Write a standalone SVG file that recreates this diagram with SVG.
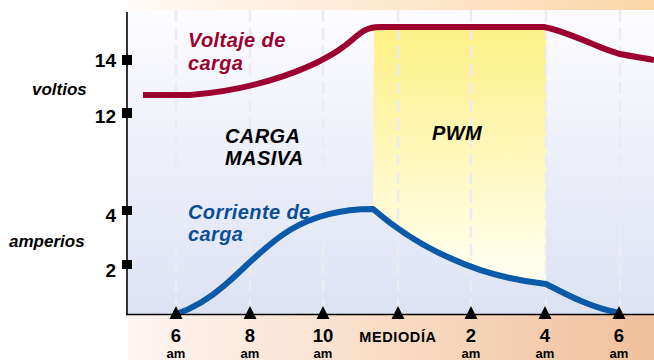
<svg xmlns="http://www.w3.org/2000/svg" width="654" height="360" viewBox="0 0 654 360">
  <defs>
    <linearGradient id="plotBg" x1="0" y1="10" x2="0" y2="314" gradientUnits="userSpaceOnUse">
      <stop offset="0" stop-color="#fcfcff"/>
      <stop offset="1" stop-color="#dde2f3"/>
    </linearGradient>
    <linearGradient id="topBand" x1="128" y1="0" x2="654" y2="0" gradientUnits="userSpaceOnUse">
      <stop offset="0" stop-color="#fffaf6"/>
      <stop offset="1" stop-color="#fbd6a8"/>
    </linearGradient>
    <linearGradient id="bottomBand" x1="128" y1="0" x2="654" y2="0" gradientUnits="userSpaceOnUse">
      <stop offset="0" stop-color="#fff5f3"/>
      <stop offset="0.5" stop-color="#f8dcc4"/>
      <stop offset="1" stop-color="#f1c09c"/>
    </linearGradient>
    <linearGradient id="pwmFill" x1="0" y1="27" x2="0" y2="286" gradientUnits="userSpaceOnUse">
      <stop offset="0" stop-color="#fdf084"/>
      <stop offset="1" stop-color="#fffff4"/>
    </linearGradient>
    <style>
      .grid { stroke: #ebebf1; stroke-width: 2.5; stroke-dasharray: 12 6; fill: none; }
      .axis { stroke: #000; stroke-width: 1.6; fill: none; }
      .tick { fill: #000; }
      .num { font-family: "Liberation Sans", Arial, sans-serif; font-weight: bold; font-size: 19px; fill: #000; }
      .xnum { font-family: "Liberation Sans", Arial, sans-serif; font-weight: bold; font-size: 18.5px; fill: #000; text-anchor: middle; }
      .am { font-family: "Liberation Sans", Arial, sans-serif; font-weight: bold; font-size: 13px; fill: #000; text-anchor: middle; }
      .unit { font-family: "Liberation Sans", Arial, sans-serif; font-weight: bold; font-style: italic; font-size: 17px; fill: #000; }
      .lbl { font-family: "Liberation Sans", Arial, sans-serif; font-weight: bold; font-style: italic; font-size: 20px; letter-spacing: 0.4px; }
      .volt { stroke: #9b002f; stroke-width: 6; fill: none; stroke-linejoin: round; }
      .amp { stroke: #0b5aa9; stroke-width: 6; fill: none; stroke-linejoin: round; }
    </style>
  </defs>

  <g id="background">
    <rect x="128" y="0" width="526" height="10" fill="url(#topBand)"/>
    <rect x="128" y="10" width="526" height="304" fill="url(#plotBg)"/>
    <rect x="128" y="315" width="526" height="45" fill="url(#bottomBand)"/>
  </g>

  <g id="pwm-region">
    <path d="M374,27 L546,27 L546,284 C510,280 480,272 450,258 C420,245 395,228 373,209 Z" fill="url(#pwmFill)"/>
  </g>

  <g id="gridlines">
    <line class="grid" x1="176" y1="10" x2="176" y2="312"/>
    <line class="grid" x1="250" y1="10" x2="250" y2="312"/>
    <line class="grid" x1="323" y1="10" x2="323" y2="312"/>
    <line class="grid" x1="398" y1="10" x2="398" y2="312"/>
    <line class="grid" x1="471" y1="10" x2="471" y2="312"/>
    <line class="grid" x1="546" y1="10" x2="546" y2="312"/>
    <line class="grid" x1="620" y1="10" x2="620" y2="312"/>
  </g>

  <g id="connectors">
    <path id="voltage-curve" class="volt" d="M143,95 L190,95 C255,90 320,68 352,40 C362,31 368,27 380,27 L544,27 C570,32 600,49 620,54 C635,57 645,58 654,60"/>
    <path id="current-curve" class="amp" d="M176,314 C195,308 210,298 225,285 C245,268 265,245 290,230 C315,215 345,209 373,209 C395,228 420,245 450,258 C480,272 510,280 546,284 C562,292 590,308 620,313"/>
  </g>

  <g id="axes">
    <line class="axis" x1="127" y1="12" x2="127" y2="315"/>
    <line class="axis" x1="126" y1="314.5" x2="654" y2="314.5"/>
    <rect class="tick" x="122" y="55" width="10" height="10"/>
    <rect class="tick" x="122" y="108" width="10" height="10"/>
    <rect class="tick" x="122" y="206" width="10" height="9"/>
    <rect class="tick" x="122" y="260" width="10" height="9"/>
    <path class="tick" d="M176,306 L182.5,319 L169.5,319 Z"/>
    <path class="tick" d="M250,306 L256.5,319 L243.5,319 Z"/>
    <path class="tick" d="M323,306 L329.5,319 L316.5,319 Z"/>
    <path class="tick" d="M398,306 L404.5,319 L391.5,319 Z"/>
    <path class="tick" d="M471,306 L477.5,319 L464.5,319 Z"/>
    <path class="tick" d="M545,306 L551.5,319 L538.5,319 Z"/>
    <path class="tick" d="M619,306 L625.5,319 L612.5,319 Z"/>
  </g>

  <g id="y-labels">
    <text class="num" x="116" y="67" text-anchor="end">14</text>
    <text class="num" x="116" y="123" text-anchor="end">12</text>
    <text class="num" x="116" y="222" text-anchor="end">4</text>
    <text class="num" x="116" y="277" text-anchor="end">2</text>
    <text class="unit" x="32" y="95">voltios</text>
    <text class="unit" x="9" y="247">amperios</text>
  </g>

  <g id="x-labels">
    <text class="xnum" x="176" y="342">6</text>
    <text class="am" x="176" y="357.5">am</text>
    <text class="xnum" x="250" y="342">8</text>
    <text class="am" x="250" y="357.5">am</text>
    <text class="xnum" x="323" y="342">10</text>
    <text class="am" x="323" y="357.5">am</text>
    <text x="398" y="342" text-anchor="middle" font-family="Liberation Sans, Arial, sans-serif" font-weight="bold" font-size="14.5" letter-spacing="0.6">MEDIODÍA</text>
    <text class="xnum" x="471" y="342">2</text>
    <text class="am" x="471" y="357.5">am</text>
    <text class="xnum" x="545" y="342">4</text>
    <text class="am" x="545" y="357.5">am</text>
    <text class="xnum" x="619" y="342">6</text>
    <text class="am" x="619" y="357.5">am</text>
  </g>

  <g id="label-voltaje">
    <text class="lbl" x="188" y="47" fill="#9b002f">Voltaje de</text>
    <text class="lbl" x="188" y="70" fill="#9b002f">carga</text>
  </g>
  <g id="label-corriente">
    <text class="lbl" x="188" y="219" fill="#0a4f96">Corriente de</text>
    <text class="lbl" x="188" y="241" fill="#0a4f96">carga</text>
  </g>
  <g id="label-carga-masiva">
    <text class="lbl" x="225" y="143" fill="#000">CARGA</text>
    <text class="lbl" x="225" y="165" fill="#000">MASIVA</text>
  </g>
  <g id="label-pwm">
    <text class="lbl" x="432" y="140" fill="#000">PWM</text>
  </g>
</svg>
